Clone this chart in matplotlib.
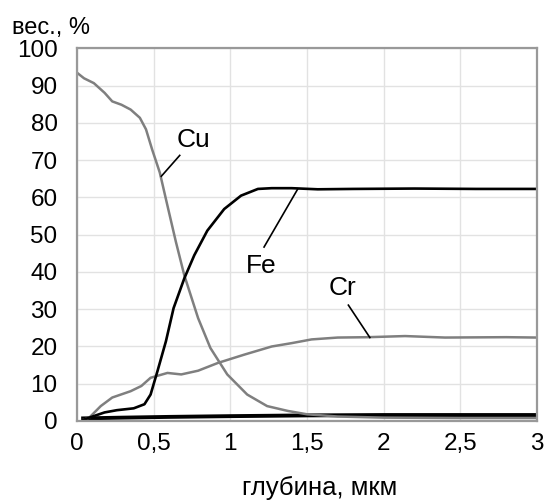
import matplotlib.pyplot as plt
import numpy as np

plt.rcParams['font.family'] = ['Liberation Sans', 'DejaVu Sans']

# профили по глубине, вес. %
cu_x = [0.0, 0.046, 0.11, 0.18, 0.23, 0.29, 0.35, 0.41, 0.45, 0.49, 0.54, 0.59, 0.645, 0.70,
        0.79, 0.87, 0.98, 1.11, 1.24, 1.375, 1.5, 1.7, 2.0, 2.5, 3.0]
cu_y = [93.5, 92.0, 90.7, 88.1, 85.8, 84.9, 83.6, 81.4, 78.3, 72.9, 66.7, 57.8, 48.1, 39.1,
        27.6, 19.6, 12.5, 7.1, 4.0, 2.7, 1.8, 1.2, 0.9, 0.8, 0.8]

fe_x = [0.04, 0.08, 0.18, 0.26, 0.37, 0.44, 0.48, 0.525, 0.58, 0.63, 0.70, 0.765, 0.85, 0.96,
        1.07, 1.18, 1.27, 1.4, 1.57, 1.8, 2.2, 2.6, 3.0]
fe_y = [0.3, 0.9, 2.3, 2.9, 3.4, 4.5, 7.1, 13.4, 21.4, 30.3, 38.3, 44.5, 51.1, 56.9,
        60.5, 62.3, 62.5, 62.5, 62.2, 62.3, 62.4, 62.3, 62.3]

cr_x = [0.04, 0.08, 0.155, 0.23, 0.35, 0.42, 0.48, 0.59, 0.68, 0.79, 0.92, 1.09, 1.27, 1.40,
        1.53, 1.70, 1.90, 2.14, 2.4, 2.8, 3.0]
cr_y = [0.3, 0.9, 4.0, 6.3, 8.0, 9.4, 11.6, 12.9, 12.5, 13.5, 15.6, 17.8, 20.0, 20.9,
        21.9, 22.4, 22.5, 22.8, 22.4, 22.5, 22.4]

bot_x = [0.04, 0.3, 0.6, 1.0, 1.5, 2.0, 3.0]
bot_y = [0.7, 0.9, 1.1, 1.3, 1.5, 1.6, 1.6]

xticks = [0, 0.5, 1, 1.5, 2, 2.5, 3]
xlabels = ['0', '0,5', '1', '1,5', '2', '2,5', '3']
yticks = list(range(0, 101, 10))

fig = plt.figure(figsize=(5.46, 5.01), dpi=100)
ax = fig.add_axes([0.141, 0.1597, 0.8425, 0.7435])

ax.plot(bot_x, bot_y, color='black', lw=2.8)
ax.plot(cu_x, cu_y, color='#7f7f7f', lw=1.8, solid_joinstyle='round')
ax.plot(cr_x, cr_y, color='#7f7f7f', lw=1.8, solid_joinstyle='round')
ax.plot(fe_x, fe_y, color='black', lw=1.9, solid_joinstyle='round')

# подписи кривых с выносками
ax.text(0.76, 75.5, 'Cu', fontsize=19, ha='center', va='center')
ax.plot([0.67, 0.55], [71.3, 65.7], color='black', lw=1.2)
ax.text(1.20, 41.5, 'Fe', fontsize=19, ha='center', va='center')
ax.plot([1.22, 1.44], [46.7, 62.3], color='black', lw=1.2)
ax.text(1.73, 35.6, 'Cr', fontsize=19, ha='center', va='center')
ax.plot([1.77, 1.91], [31.1, 22.4], color='black', lw=1.2)

ax.set_xlim(0, 3)
ax.set_ylim(0.5, 100)
ax.set_xticks(xticks)
ax.set_xticklabels(xlabels)
ax.set_yticks(yticks)
ax.tick_params(length=0, labelsize=17.5)
ax.tick_params(axis='y', pad=14)
ax.tick_params(axis='x', pad=9)
ax.grid(True, color='#e2e2e2', lw=1.0)
for s in ax.spines.values():
    s.set_color('#999999')
    s.set_linewidth(1.6)

fig.text(0.022, 0.945, 'вес., %', fontsize=17, va='center')
fig.text(0.586, 0.026, 'глубина, мкм', fontsize=18.5, ha='center', va='center')

plt.savefig('out.png', dpi=100)
